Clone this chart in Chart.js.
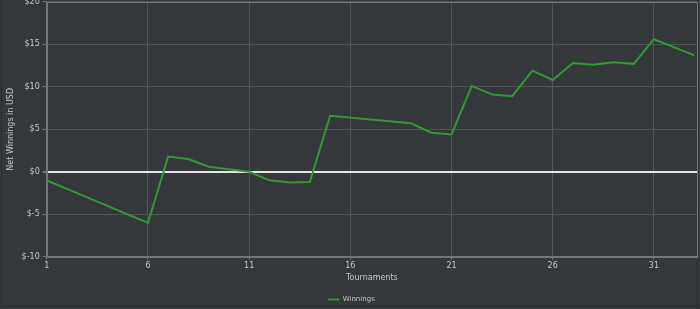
<!DOCTYPE html>
<html><head><meta charset="utf-8">
<script src="https://cdn.jsdelivr.net/npm/chart.js@4.4.1/dist/chart.umd.min.js"></script>
<style>
html,body{margin:0;padding:0;background:#35383b;overflow:hidden;width:700px;height:309px;}
#frame{position:absolute;left:1px;top:-2px;width:697px;height:309px;border:1px dotted #1e2022;box-sizing:border-box;}
#wrap{position:absolute;left:0;top:-6px;width:700px;height:319px;}
</style></head>
<body>
<div id="frame"></div>
<div id="wrap"><canvas id="c" width="700" height="319"></canvas></div>
<script>
const tournaments = [1, 6, 7, 8, 9, 10, 11, 12, 13, 14, 15, 19, 20, 21, 22, 23, 24, 25, 26, 27, 28, 29, 30, 31, 33];
const winnings    = [-1.0, -6.0, 1.8, 1.5, 0.6, 0.3, 0.0, -1.0, -1.25, -1.2, 6.6, 5.7, 4.6, 4.4, 10.1, 9.1, 8.9, 11.9, 10.8, 12.8, 12.6, 12.9, 12.7, 15.6, 13.7];
const xTicks = [1, 6, 11, 16, 21, 26, 31];
const yTicks = [-10, -5, 0, 5, 10, 15, 20];
const seriesName = 'Winnings';

const FONT = "'DejaVu Sans', Verdana, sans-serif";
const points = tournaments.map((t, i) => ({x: t, y: winnings[i]}));

const borderPlugin = {
  id: 'areaBorder',
  beforeDatasetsDraw(chart) {
    const a = chart.chartArea, ctx = chart.ctx;
    ctx.save();
    ctx.strokeStyle = '#74777a';
    ctx.lineWidth = 1;
    ctx.strokeRect(Math.round(a.left) + 0.5, Math.round(a.top) + 0.5, Math.round(a.right - a.left), Math.round(a.bottom - a.top));
    ctx.restore();
  }
};

new Chart(document.getElementById('c'), {
  type: 'line',
  data: { datasets: [{
    label: seriesName,
    data: points,
    borderColor: '#2f9a33',
    backgroundColor: '#2f9a33',
    borderWidth: 2,
    pointRadius: 0,
    tension: 0
  }]},
  options: {
    responsive: false,
    animation: false,
    layout: { padding: { left: 6, right: 3, top: 0, bottom: 0 } },
    plugins: {
      legend: {
        position: 'bottom',
        labels: {
          color: '#c8c8c8', font: { family: FONT, size: 7 },
          boxWidth: 11, boxHeight: 2, padding: 4,
          generateLabels(chart) {
            const l = Chart.defaults.plugins.legend.labels.generateLabels(chart);
            l.forEach(i => { i.lineWidth = 0; i.fontColor = '#c8c8c8'; });
            return l;
          }
        }
      },
      tooltip: { enabled: false }
    },
    scales: {
      x: {
        type: 'linear',
        min: 1, max: 33.13,
        afterBuildTicks(s) { s.ticks = xTicks.map(v => ({value: v})); },
        ticks: { color: '#c8c8c8', font: { family: FONT, size: 8 }, padding: 1, maxRotation: 0, callback: v => String(v) },
        grid: { color: '#525558', lineWidth: 1, tickLength: 3, tickColor: '#74777a' },
        border: { color: '#74777a' },
        title: { display: true, text: 'Tournaments', color: '#c8c8c8', font: { family: FONT, size: 8 }, padding: { top: 2, bottom: 9 } }
      },
      y: {
        min: -10, max: 20,
        afterBuildTicks(s) { s.ticks = yTicks.map(v => ({value: v})); },
        ticks: { color: '#c8c8c8', font: { family: FONT, size: 8 }, padding: 3, callback: v => '$' + v },
        grid: {
          color: c => c.tick && c.tick.value === 0 ? '#e6e6e6' : '#525558',
          lineWidth: c => c.tick && c.tick.value === 0 ? 2 : 1,
          tickLength: 4, tickColor: '#74777a'
        },
        border: { color: '#74777a' },
        title: { display: true, text: 'Net Winnings in USD', color: '#c8c8c8', font: { family: FONT, size: 8 }, padding: { top: 0, bottom: 3 } }
      }
    }
  },
  plugins: [borderPlugin]
});
</script>
</body></html>
